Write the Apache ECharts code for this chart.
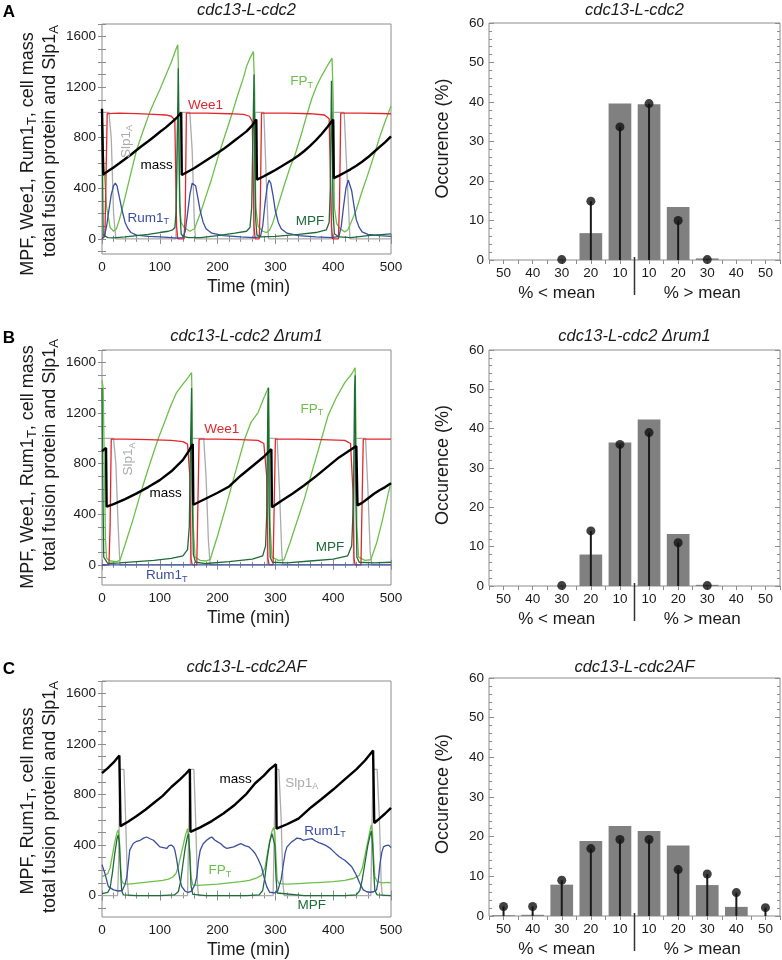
<!DOCTYPE html>
<html><head><meta charset="utf-8">
<script src="https://cdn.jsdelivr.net/npm/echarts@6/dist/echarts.min.js"></script>
<style>html,body{margin:0;padding:0;background:#fff}#c{width:782px;height:960px}</style>
</head><body><div id="c"></div><script>
// ---------------- DATA ----------------
// Panel A (cdc13-L-cdc2): [time (min), value]
const massA = [[0,1030],[1,1025],[2,510],[10,535],[20,565],[30,598],[40,632],[50,665],[60,703],[70,738],[80,772],[90,808],[100,845],[110,880],[120,920],[130,962],[137,1000],[138,505],[150,535],[160,560],[170,590],[180,620],[190,650],[200,680],[210,710],[220,745],[230,780],[240,815],[250,850],[260,898],[267,945],[268,468],[280,495],[290,520],[300,545],[310,572],[320,600],[330,628],[340,660],[350,695],[360,735],[370,780],[380,830],[390,885],[400,945],[401,480],[410,500],[420,525],[430,550],[440,578],[450,610],[460,645],[470,685],[480,725],[490,765],[500,810]];
const wee1A = [[0,0],[5,20],[9,990],[30,995],[60,990],[90,985],[110,980],[120,970],[126,940],[129,100],[131,0],[142,0],[144,200],[146,995],[180,995],[220,990],[245,985],[255,970],[260,930],[263,100],[265,0],[272,0],[274,300],[276,995],[320,995],[360,990],[385,980],[393,950],[397,100],[399,0],[409,0],[411,300],[413,995],[450,995],[500,990]];
const slp1A = [[0,1000],[12,1000],[16,800],[20,200],[24,0],[128,0],[131,1000],[152,1000],[156,700],[160,100],[162,0],[262,0],[265,1000],[280,1000],[284,500],[288,0],[397,0],[400,1000],[419,1000],[424,500],[429,0],[500,0]];
const rum1A = [[0,0],[4,20],[8,100],[12,230],[16,350],[20,420],[23,440],[26,420],[30,330],[35,220],[40,130],[45,80],[50,50],[60,30],[80,20],[100,15],[120,10],[130,5],[140,10],[144,60],[148,200],[152,350],[156,440],[159,455],[162,420],[166,320],[170,220],[175,130],[180,80],[190,45],[210,25],[240,15],[262,10],[274,15],[278,100],[282,280],[286,420],[289,465],[292,440],[296,340],[300,220],[305,130],[310,80],[320,45],[340,25],[370,15],[398,10],[410,20],[414,100],[418,260],[422,400],[426,465],[429,450],[432,380],[436,260],[440,150],[445,90],[450,55],[460,35],[480,25],[500,20]];
const fpA = [[0,1000],[3,600],[8,250],[14,90],[20,60],[25,80],[30,150],[40,330],[50,520],[60,705],[70,840],[82,995],[90,1080],[100,1180],[110,1290],[120,1400],[128,1500],[131,1535],[132,1400],[134,300],[137,130],[142,90],[152,60],[160,80],[170,200],[180,340],[190,480],[201,652],[210,780],[220,920],[227,1020],[235,1140],[245,1280],[250,1363],[256,1430],[262,1482],[264,1200],[266,250],[270,100],[278,60],[285,50],[290,70],[295,120],[305,270],[315,420],[325,560],[334,665],[345,830],[355,990],[363,1110],[371,1205],[380,1290],[390,1370],[398,1430],[400,1100],[402,250],[406,120],[412,80],[420,55],[425,70],[430,120],[440,230],[449,363],[460,510],[472,679],[480,800],[490,930],[500,1050]];
const mpfA = [[0,1000],[1,500],[2,30],[10,10],[20,8],[40,15],[60,25],[80,35],[100,50],[115,60],[122,70],[126,90],[128,200],[130,700],[132,1350],[133,800],[135,200],[137,40],[140,20],[150,10],[170,10],[200,25],[230,45],[250,60],[256,90],[259,250],[261,800],[263,1300],[264,700],[266,150],[268,30],[275,15],[300,20],[340,35],[370,50],[388,70],[393,130],[395,400],[397,1250],[398,900],[400,200],[402,40],[410,15],[430,10],[460,25],[500,40]];

// Panel B (cdc13-L-cdc2 Δrum1)
const massB = [[0,900],[3,910],[7,925],[8,460],[20,480],[40,520],[60,565],[80,615],[100,670],[120,740],[140,830],[150,900],[157,955],[158,475],[160,480],[180,525],[200,570],[220,620],[240,705],[260,780],[280,855],[293,915],[294,455],[310,505],[330,565],[350,630],[370,700],[390,775],[410,850],[425,895],[440,940],[442,470],[450,490],[460,525],[470,560],[480,590],[490,615],[500,645]];
const wee1B = [[0,0],[12,0],[14,300],[16,995],[40,995],[80,990],[120,985],[140,975],[148,955],[152,700],[154,50],[156,0],[164,0],[166,500],[168,995],[200,995],[240,990],[270,985],[280,960],[285,700],[287,50],[289,0],[296,0],[298,500],[300,995],[340,995],[380,990],[420,985],[430,960],[434,600],[436,50],[438,0],[448,0],[450,500],[452,995],[500,995]];
const slp1B = [[0,1000],[20,1000],[24,800],[28,300],[31,0],[153,0],[155,1000],[176,1000],[180,700],[184,200],[187,0],[286,0],[288,1000],[303,1000],[307,600],[311,100],[313,0],[435,0],[437,1000],[456,1000],[460,600],[464,100],[467,0],[500,0]];
const rum1B = [[0,0],[500,0]];
const fpB = [[0,1460],[2,1400],[4,800],[6,200],[8,50],[15,30],[25,25],[31,35],[40,160],[54,363],[65,540],[80,760],[97,995],[110,1150],[120,1270],[129,1363],[140,1430],[150,1490],[155,1521],[156,1200],[158,300],[161,60],[170,35],[180,30],[187,40],[200,230],[215,470],[230,720],[247,997],[258,1130],[270,1205],[280,1320],[288,1403],[289,1100],[291,300],[294,60],[305,35],[315,40],[325,170],[340,380],[350,520],[363,731],[375,920],[391,1179],[405,1320],[420,1442],[432,1510],[438,1560],[439,1200],[441,300],[444,60],[455,35],[465,40],[475,170],[485,350],[495,560],[500,650]];
const mpfB = [[0,1400],[1,800],[3,60],[10,10],[30,15],[60,25],[90,35],[120,50],[140,70],[148,120],[151,300],[153,900],[155,1400],[156,600],[158,80],[162,20],[180,10],[220,25],[260,45],[278,70],[283,150],[285,400],[287,1300],[288,1400],[289,500],[291,60],[295,20],[320,15],[360,30],[400,45],[425,70],[432,150],[435,500],[437,1400],[438,1500],[439,600],[441,60],[445,20],[470,15],[500,20]];

// Panel C (cdc13-L-cdc2AF)
const massC = [[0,970],[10,1010],[20,1055],[30,1110],[31,1120],[32,550],[45,585],[60,630],[75,680],[90,735],[105,790],[120,860],[135,920],[145,965],[152,1000],[153,505],[170,540],[190,590],[210,650],[230,720],[250,806],[265,890],[280,950],[290,1000],[301,1040],[302,530],[320,565],[340,610],[362,700],[380,765],[400,840],[420,920],[440,1000],[455,1070],[469,1150],[470,1155],[471,575],[480,610],[490,650],[500,695]];
const slp1C = [[0,0],[27,0],[29,300],[31,1000],[38,1000],[41,600],[44,100],[46,0],[148,0],[150,500],[152,1000],[159,1000],[162,600],[165,100],[167,0],[296,0],[298,500],[300,1000],[306,1000],[310,600],[313,100],[315,0],[465,0],[467,500],[469,1000],[476,1000],[480,600],[483,100],[485,0],[500,0]];
const rum1C = [[0,245],[5,176],[11,71],[20,45],[28,36],[35,40],[40,90],[43,150],[48,360],[54,412],[60,430],[66,438],[72,455],[77,464],[83,450],[89,438],[95,410],[100,386],[106,380],[112,373],[116,395],[120,400],[124,385],[126,360],[129,290],[132,202],[135,120],[138,71],[144,34],[149,26],[155,35],[158,50],[161,90],[164,150],[167,280],[170,360],[175,410],[181,438],[186,455],[190,464],[195,440],[200,425],[205,412],[210,390],[216,373],[222,380],[228,386],[234,400],[240,412],[247,395],[254,386],[260,360],[265,333],[270,290],[276,228],[280,150],[285,71],[290,26],[299,21],[304,35],[307,50],[310,130],[314,254],[317,340],[320,386],[324,405],[328,425],[333,440],[337,455],[340,464],[344,450],[348,438],[355,445],[363,451],[370,430],[375,420],[380,412],[388,395],[393,380],[398,360],[405,330],[410,310],[415,294],[420,280],[425,260],[432,228],[438,180],[443,130],[446,97],[452,45],[458,30],[464,26],[470,30],[475,45],[478,120],[481,254],[484,340],[487,386],[491,395],[496,400],[500,380]];
const fpC = [[0,150],[5,160],[10,175],[14,220],[18,320],[22,420],[26,500],[28,520],[30,450],[32,250],[34,120],[37,95],[45,90],[55,95],[65,100],[75,105],[85,110],[95,115],[105,120],[115,130],[122,145],[128,175],[132,230],[136,310],[140,390],[144,470],[148,530],[150,540],[152,350],[154,150],[157,85],[165,80],[180,85],[200,90],[220,100],[240,110],[255,120],[268,140],[276,160],[282,220],[286,330],[290,430],[294,510],[297,540],[299,500],[301,300],[303,130],[306,95],[320,90],[340,95],[360,100],[380,105],[400,110],[420,120],[435,135],[445,160],[450,210],[455,320],[460,430],[464,520],[466,560],[468,500],[470,300],[472,150],[476,110],[485,100],[495,105],[500,100]];
const mpfC = [[0,15],[10,25],[14,60],[18,180],[22,330],[26,450],[28,480],[30,420],[32,200],[34,40],[37,5],[60,0],[100,0],[125,5],[132,30],[136,110],[140,250],[144,380],[148,470],[150,490],[152,300],[154,80],[157,10],[180,0],[250,0],[272,5],[278,40],[282,150],[286,300],[290,420],[294,490],[297,500],[299,400],[301,150],[303,20],[306,5],[350,0],[420,0],[440,5],[446,40],[450,120],[455,260],[460,400],[464,480],[466,510],[468,420],[470,200],[472,40],[476,5],[500,0]];

// Histograms (occurrence %)
const histCats = ['L50','L40','L30','L20','L10','R10','R20','R30','R40','R50'];
const barsA = [0,0,0,6.8,39.6,39.4,13.4,0.4,0,0];
const dotsA = ['-','-',0.1,14.9,33.7,39.6,10,0.1,'-','-'];
const barsB = [0,0,0,8,36.5,42.3,13.2,0.3,0,0];
const dotsB = ['-','-',0.1,14,36,39,11,0.1,'-','-'];
const barsC = [0.2,0.3,7.9,18.9,22.7,21.4,17.8,7.8,2.3,0];
const dotsC = [2.4,2.4,9,17,19.3,19.3,11.7,10.6,5.9,2.1];

const timeTicks = [0,100,200,300,400,500];
const yTickVals = [-100,0,100,200,300,400,500,600,700,800,900,1000,1100,1200,1300,1400,1500,1600,1700];
const yLabelVals = [0,400,800,1200,1600];

const titles = ['cdc13-L-cdc2','cdc13-L-cdc2 Δrum1','cdc13-L-cdc2AF'];
const letters = ['A','B','C'];

// ---------------- LAYOUT / STYLE ----------------
const FONT = '"Liberation Sans", Arial, Helvetica, sans-serif';
const FRAME = '#8c8c8c';
const TXT = '#1a1a1a';
const COL = {wee1:'#e2262c', rum1:'#3a4ea2', fp:'#6cc04a', mpf:'#1f6b39', slp1:'#ababab', mass:'#000000'};

const leftGrid = [{left:102,top:24,width:289,height:230},{left:102,top:350,width:289,height:235},{left:102,top:681,width:289,height:236}];
const rightGrid = [{left:489,top:23,width:291,height:237},{left:489,top:350,width:291,height:236},{left:489,top:678,width:291,height:238}];
const yMin = [-120,-160,-170];

const panels = [
  {mass:massA,wee1:wee1A,slp1:slp1A,rum1:rum1A,fp:fpA,mpf:mpfA,bars:barsA,dots:dotsA},
  {mass:massB,wee1:wee1B,slp1:slp1B,rum1:rum1B,fp:fpB,mpf:mpfB,bars:barsB,dots:dotsB},
  {mass:massC,wee1:null,slp1:slp1C,rum1:rum1C,fp:fpC,mpf:mpfC,bars:barsC,dots:dotsC}
];

const grids=[], xAxes=[], yAxes=[], series=[];
function tick(len){return {show:true,inside:true,length:len,lineStyle:{color:FRAME,width:1}};}
const lab = {color:TXT,fontSize:13.5,fontFamily:FONT,formatter:v=>String(v)};

leftGrid.forEach((g,p)=>{
  grids.push(Object.assign({show:true,borderColor:FRAME,borderWidth:1},g));
  const gi = grids.length-1;
  xAxes.push({type:'value',gridIndex:gi,position:'bottom',min:0,max:500,interval:100,axisLine:{show:false},
    axisTick:tick(5),minorTick:{show:true,splitNumber:5,length:3,lineStyle:{color:FRAME}},
    splitLine:{show:false},axisLabel:Object.assign({},lab,{margin:6,customValues:timeTicks})});
  xAxes.push({type:'value',gridIndex:gi,position:'top',min:0,max:500,interval:100,axisLine:{show:false},
    axisTick:tick(5),minorTick:{show:true,splitNumber:5,length:3,lineStyle:{color:FRAME}},
    splitLine:{show:false},axisLabel:{show:false}});
  yAxes.push({type:'value',gridIndex:gi,position:'left',min:yMin[p],max:1700,axisLine:{show:false},
    axisTick:Object.assign(tick(4),{customValues:yTickVals}),splitLine:{show:false},
    axisLabel:Object.assign({},lab,{margin:6,customValues:yLabelVals})});
  yAxes.push({type:'value',gridIndex:gi,position:'right',min:yMin[p],max:1700,axisLine:{show:false},
    axisTick:Object.assign(tick(4),{customValues:yTickVals}),splitLine:{show:false},axisLabel:{show:false}});
});
rightGrid.forEach((g,p)=>{
  grids.push(Object.assign({show:true,borderColor:FRAME,borderWidth:1},g));
  const gi = grids.length-1;
  xAxes.push({type:'category',gridIndex:gi,position:'bottom',data:histCats,axisLine:{show:false},axisTick:{show:false},
    splitLine:{show:false},axisLabel:Object.assign({},lab,{margin:6,formatter:v=>v.slice(1)})});
  xAxes.push({type:'value',gridIndex:gi,position:'top',min:0,max:10,interval:0.5,axisLine:{show:false},
    axisTick:tick(4),splitLine:{show:false},axisLabel:{show:false}});
  xAxes.push({type:'category',gridIndex:gi,position:'bottom',data:histCats,show:false});
  yAxes.push({type:'value',gridIndex:gi,position:'left',min:0,max:60,interval:10,axisLine:{show:false},
    axisTick:tick(5),minorTick:{show:true,splitNumber:5,length:3,lineStyle:{color:FRAME}},
    splitLine:{show:false},axisLabel:Object.assign({},lab,{margin:5})});
  yAxes.push({type:'value',gridIndex:gi,position:'right',min:0,max:60,interval:10,axisLine:{show:false},
    axisTick:tick(5),minorTick:{show:true,splitNumber:5,length:3,lineStyle:{color:FRAME}},
    splitLine:{show:false},axisLabel:{show:false}});
});

const firstSeries = [];
panels.forEach((d,p)=>{
  const xi = 2*p, yi = 2*p;
  const order = [['slp1',1.3],['fp',1.3],['wee1',1.3],['rum1',1.3],['mpf',1.3],['mass',2.4]];
  firstSeries[p] = series.length;
  order.forEach(([k,w])=>{
    if(!d[k]) return;
    series.push({type:'line',name:k+p,xAxisIndex:xi,yAxisIndex:yi,data:d[k],showSymbol:false,symbol:'none',
      lineStyle:{color:COL[k],width:w},silent:true,animation:false});
  });
});
panels.forEach((d,p)=>{
  const xb = 6+3*p, xs = 8+3*p, yi = 6+2*p;
  series.push({type:'bar',xAxisIndex:xb,yAxisIndex:yi,data:d.bars,barCategoryGap:'22%',
    itemStyle:{color:'#808080'},silent:true,animation:false,z:2});
  series.push({type:'bar',xAxisIndex:xs,yAxisIndex:yi,data:d.dots,barWidth:2,
    itemStyle:{color:'#1a1a1a'},silent:true,animation:false,z:3});
  series.push({type:'scatter',xAxisIndex:xs,yAxisIndex:yi,data:d.dots,symbol:'circle',symbolSize:9,
    itemStyle:{color:'#111111'},silent:true,animation:false,z:4});
});

const chart = echarts.init(document.getElementById('c'), null, {renderer:'canvas'});
chart.setOption({animation:false,backgroundColor:'#ffffff',grid:grids,xAxis:xAxes,yAxis:yAxes,series:series});

// ---------------- TEXT DECORATIONS ----------------
const gfx = [];
function plain(x,y,text,font,color,rot){
  gfx.push({type:'text',x:x,y:y,rotation:rot||0,silent:true,z:100,
    style:{text:text,font:font,fill:color,align:'center',verticalAlign:'middle'}});
}
function rich(x,y,text,size,color,rot){
  gfx.push({type:'text',x:x,y:y,rotation:rot||0,silent:true,z:100,
    style:{text:text,fill:color,align:'center',verticalAlign:'middle',
      rich:{n:{fontSize:size,fontFamily:FONT,fill:color,lineHeight:size+3},
            s:{fontSize:Math.round(size*0.7),fontFamily:FONT,fill:color,lineHeight:Math.round(size*0.5),verticalAlign:'bottom'}}}});
}
const R90 = Math.PI/2;
const axisFont = '18px ' + FONT;
const yNameL1 = ['{n|MPF, Wee1, Rum1}{s|T}{n|, cell mass}','{n|MPF, Wee1, Rum1}{s|T}{n|, cell mass}','{n|MPF, Rum1}{s|T}{n|, cell mass}'];
const yNameL2 = '{n|total fusion protein and Slp1}{s|A}';
const yNameY1 = [154,467,801], yNameY2 = [141,455,797];

// annotations in data coordinates: [key, text, t, value, rotated]
const notes = [
  [['wee1','{n|Wee1}',179,1053,0],['slp1','{n|Slp1}{s|A}',41.5,771,1],['mass','{n|mass}',94.6,581,0],['rum1','{n|Rum1}{s|T}',80,166,0],['fp','{n|FP}{s|T}',345.5,1245,0],['mpf','{n|MPF}',360,139,0]],
  [['wee1','{n|Wee1}',207,1074,0],['slp1','{n|Slp1}{s|A}',45.5,837,1],['mass','{n|mass}',110,565,0],['rum1','{n|Rum1}{s|T}',112,-85,0],['fp','{n|FP}{s|T}',363,1232,0],['mpf','{n|MPF}',394.5,139,0]],
  [['mass','{n|mass}',231,924,0],['slp1','{n|Slp1}{s|A}',345.5,892,0],['rum1','{n|Rum1}{s|T}',386,512,0],['fp','{n|FP}{s|T}',204,197,0],['mpf','{n|MPF}',363,-79,0]]
];

for(let p=0;p<3;p++){
  const lg = leftGrid[p], rg = rightGrid[p];
  const lb = lg.top+lg.height, rb = rg.top+rg.height;
  plain(9, lg.top-12, letters[p], 'bold 17px '+FONT, '#000');
  plain(lg.left+lg.width/2, lg.top-14, titles[p], 'italic 16.5px '+FONT, TXT);
  plain(rg.left+rg.width/2, lg.top-14, titles[p], 'italic 16.5px '+FONT, TXT);
  plain(lg.left+lg.width/2+2, lb+33, 'Time (min)', '17.5px '+FONT, TXT);
  rich(28, yNameY1[p], yNameL1[p], 18, TXT, R90);
  rich(50, yNameY2[p], yNameL2, 18, TXT, R90);
  plain(443, rg.top+rg.height/2-3, 'Occurence (%)', axisFont, TXT, R90);
  const xi = 6+3*p;
  const c2 = chart.convertToPixel({xAxisIndex:xi}, 2);
  const c4 = chart.convertToPixel({xAxisIndex:xi}, 4);
  const c5 = chart.convertToPixel({xAxisIndex:xi}, 5);
  const c7 = chart.convertToPixel({xAxisIndex:xi}, 7);
  const mid = (c4+c5)/2;
  gfx.push({type:'line',silent:true,z:100,shape:{x1:mid,y1:rb-3,x2:mid,y2:rb+35},style:{stroke:'#333',lineWidth:1.5}});
  plain(c2-5, rb+33, '% < mean', '17px '+FONT, TXT);
  plain(c7-5, rb+33, '% > mean', '17px '+FONT, TXT);
  notes[p].forEach(([k,text,t,v,rot])=>{
    const pt = chart.convertToPixel({seriesIndex:firstSeries[p]}, [t,v]);
    rich(pt[0], pt[1], text, 13.5, COL[k], rot?R90:0);
  });
}
chart.setOption({graphic:gfx});
</script></body></html>
